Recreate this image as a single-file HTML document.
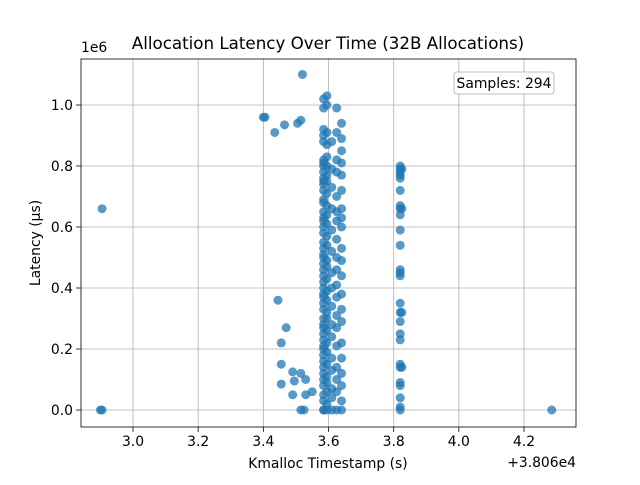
<!DOCTYPE html>
<html><head><meta charset="utf-8"><style>
body{margin:0;background:#fff;font-family:"Liberation Sans","DejaVu Sans",sans-serif}
</style></head><body>
<svg id="chart" width="640" height="480" xmlns="http://www.w3.org/2000/svg" font-family="DejaVu Sans, Liberation Sans, sans-serif">
<rect width="640" height="480" fill="#fff"/>
<g id="grid"></g><g id="pts"></g><g id="axes"></g>
</svg>
<script>
const xTicks=[3.0,3.2,3.4,3.6,3.8,4.0,4.2];
const yTicks=[0.0,0.2,0.4,0.6,0.8,1.0];
const scatterX=[3.52,3.40,3.405,3.435,3.465,3.505,3.515,2.905,2.90,2.905,4.285,3.445,3.47,3.455,3.455,3.49,3.515,3.53,3.455,3.495,3.49,3.53,3.55,3.515,3.525];
const scatterY=[1.10,0.96,0.96,0.91,0.935,0.94,0.95,0.66,0,0,0,0.36,0.27,0.22,0.15,0.125,0.12,0.10,0.085,0.095,0.05,0.05,0.06,0,0];
const colXs=[3.585,3.595,3.61,3.625,3.64,3.82,3.825];
const colYs=[
[1.02,0.99,0.92,0.90,0.88,0.82,0.81,0.80,0.78,0.76,0.75,0.74,0.72,0.69,0.68,0.65,0.63,0.62,0.60,0.58,0.55,0.53,0.51,0.50,0.48,0.46,0.44,0.42,0.40,0.38,0.37,0.35,0.33,0.30,0.28,0.27,0.25,0.23,0.21,0.20,0.18,0.16,0.14,0.12,0.10,0.08,0.05,0.03,0,0],
[1.03,1.0,0.91,0.87,0.83,0.80,0.77,0.75,0.71,0.67,0.64,0.61,0.57,0.54,0.49,0.47,0.43,0.39,0.36,0.32,0.30,0.26,0.22,0.19,0.15,0.11,0.09,0.06,0.02,0],
[0.88,0.79,0.73,0.66,0.59,0.52,0.45,0.40,0.34,0.28,0.24,0.17,0.13,0.07,0.04,0],
[0.99,0.91,0.82,0.78,0.70,0.65,0.62,0.56,0.50,0.46,0.41,0.37,0.31,0.27,0.21,0.14,0.10,0.06,0],
[0.94,0.89,0.85,0.81,0.77,0.72,0.66,0.63,0.60,0.53,0.49,0.44,0.38,0.33,0.29,0.22,0.17,0.12,0.08,0.03,0],
[0.80,0.79,0.78,0.77,0.76,0.72,0.67,0.66,0.64,0.59,0.54,0.46,0.45,0.44,0.35,0.32,0.29,0.25,0.23,0.15,0.14,0.09,0.08,0.04,0.01,0],
[0.79,0.66,0.32,0.14]];
const X0=81,X1=576,Y0=59,Y1=427;
function sx(v){return 133+(v-3.0)/0.2*65.17;}
function sy(v){return 410-v*305;}
const NS='http://www.w3.org/2000/svg';
function mk(t,a,p){const e=document.createElementNS(NS,t);for(const k in a)e.setAttribute(k,a[k]);p.appendChild(e);return e;}
const grid=document.getElementById('grid'),pts=document.getElementById('pts'),axes=document.getElementById('axes');
xTicks.forEach(t=>{const x=sx(t);
const g=mk('line',{x1:x,x2:x,y1:Y0,y2:Y1,stroke:'#b0b0b0','stroke-width':0.8},grid);


mk('line',{x1:x,x2:x,y1:Y1,y2:Y1+4.9,stroke:'#000','stroke-width':0.8},axes);
const l=mk('text',{x:x,y:Y1+19,'text-anchor':'middle','font-size':13.9},axes);l.textContent=t.toFixed(1);

});
yTicks.forEach(t=>{const y=sy(t);
const g=mk('line',{x1:X0,x2:X1,y1:y,y2:y,stroke:'#b0b0b0','stroke-width':0.8},grid);


mk('line',{x1:X0-4.9,x2:X0,y1:y,y2:y,stroke:'#000','stroke-width':0.8},axes);
const l=mk('text',{x:X0-8,y:y+5,'text-anchor':'end','font-size':13.9},axes);l.textContent=t.toFixed(1);

});
function dot(x,y){const c=mk('circle',{cx:sx(x),cy:sy(y),r:4.5,fill:'#1f77b4','fill-opacity':0.75},pts);

}
scatterX.forEach((x,i)=>dot(x,scatterY[i]));
colXs.forEach((x,i)=>colYs[i].forEach(y=>dot(x,y)));
mk('rect',{x:X0,y:Y0,width:X1-X0,height:Y1-Y0,fill:'none',stroke:'#000','stroke-width':0.8},axes);
function txt(s,a,name){const t=mk('text',a,axes);t.textContent=s;

return t;}
txt('Allocation Latency Over Time (32B Allocations)',{x:328,y:49,'text-anchor':'middle','font-size':16.7},'chart-title');
txt('Kmalloc Timestamp (s)',{x:328,y:468,'text-anchor':'middle','font-size':13.9},'x-axis-title');
txt('Latency (µs)',{x:0,y:0,'text-anchor':'middle','font-size':13.9,transform:'translate(40,243) rotate(-90)'},'y-axis-title');
txt('1e6',{x:81,y:52,'font-size':13.9},'y-axis-multiplier');
txt('+3.806e4',{x:576,y:467,'text-anchor':'end','font-size':13.9},'x-axis-offset');
const b=mk('rect',{x:454,y:72,width:100,height:22,rx:3,fill:'#fff','fill-opacity':0.85,stroke:'#aaa','stroke-width':0.8},axes);


txt('Samples: 294',{x:504,y:88,'text-anchor':'middle','font-size':13.9},'samples-count');
</script>
</body></html>
